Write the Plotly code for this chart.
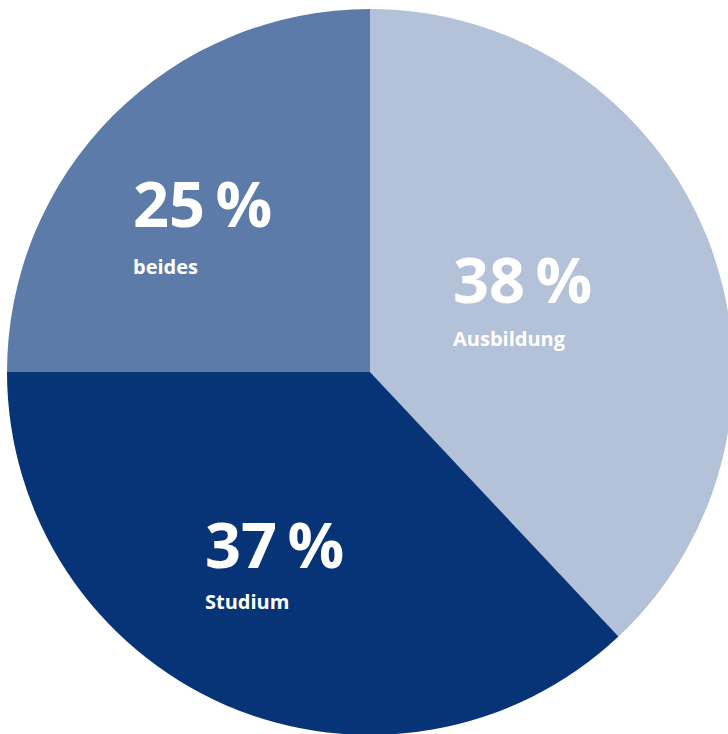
import plotly.graph_objects as go

labels = ["Ausbildung", "Studium", "beides"]
values = [38, 37, 25]
colors = ["#b3c2d8", "#073377", "#5d7ba8"]

# label positions (pixels in the frame): left x, number line y, name line y
label_px = {
    "Ausbildung": (451, 278, 338),
    "Studium": (203, 543, 601),
    "beides": (131, 203, 266),
}

W, H = 740, 744

fig = go.Figure(
    go.Pie(
        labels=labels,
        values=values,
        marker=dict(colors=colors, line=dict(width=0)),
        sort=False,
        direction="clockwise",
        rotation=0,
        textinfo="none",
        hoverinfo="label+percent",
        domain=dict(x=[7 / W, 733 / W], y=[0, 1]),
    )
)

annotations = []
for lab, val in zip(labels, values):
    x, y_num, y_txt = label_px[lab]
    annotations.append(dict(
        x=x / W, y=1 - y_num / H, xref="paper", yref="paper",
        xanchor="left", yanchor="middle", showarrow=False,
        text="<b>%d\u2009%%</b>" % val,
        font=dict(family="Open Sans", size=63, color="white"),
    ))
    annotations.append(dict(
        x=x / W, y=1 - y_txt / H, xref="paper", yref="paper",
        xanchor="left", yanchor="middle", showarrow=False,
        text="<b>%s</b>" % lab,
        font=dict(family="Open Sans", size=20, color="white"),
    ))

fig.update_layout(
    width=W,
    height=H,
    margin=dict(l=0, r=0, t=0, b=0),
    showlegend=False,
    paper_bgcolor="white",
    annotations=annotations,
)

fig.write_html(
    "out.html",
    config=dict(displayModeBar=False),
    post_script="document.body.style.margin='0';document.body.style.overflow='hidden';",
)
